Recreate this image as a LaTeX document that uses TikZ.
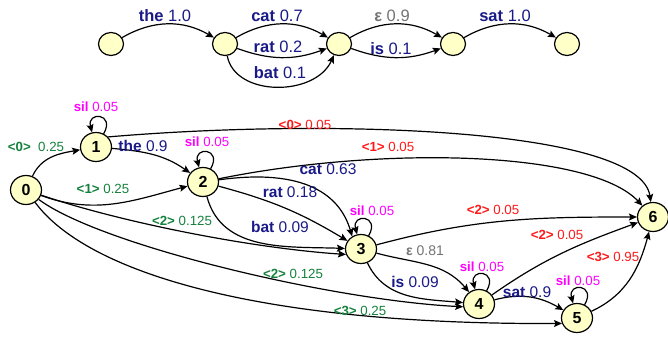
\documentclass[tikz,border=0pt]{standalone}
\usepackage{fontspec}
\setmainfont{Liberation Sans}
\usetikzlibrary{arrows.meta,shapes.geometric}
\definecolor{lnavy}{RGB}{25,25,135}
\definecolor{lgreen}{RGB}{20,130,60}
\definecolor{lred}{RGB}{255,25,25}
\definecolor{lmag}{RGB}{255,0,255}
\definecolor{lgray}{RGB}{115,115,115}
\definecolor{nfill}{RGB}{255,255,200}
\begin{document}
\begin{tikzpicture}[x=1pt,y=1pt,
  st/.style={ellipse,draw,line width=1.2pt,fill=nfill,minimum width=31pt,minimum height=29pt,inner sep=0pt,font=\fontsize{16}{16}\selectfont\bfseries},
  tst/.style={ellipse,draw,line width=1.2pt,fill=nfill,minimum width=25pt,minimum height=23pt,inner sep=0pt},
  arr/.style={-{Stealth[length=8pt,width=7pt,inset=1.5pt]},line width=1.2pt},
  selfloop/.style={arr},
  tlab/.style={inner sep=0pt,anchor=center,font=\fontsize{16.5}{17}\selectfont,text=lnavy},
  tglab/.style={tlab,text=lgray},
  blab/.style={inner sep=0pt,anchor=center,font=\fontsize{15.5}{16}\selectfont,text=lnavy},
  slab/.style={inner sep=0pt,anchor=center,font=\fontsize{13.3}{14}\selectfont},
  mlab/.style={slab,text=lmag},
  rlab/.style={slab,text=lred},
  glab/.style={slab,text=lgreen},
  gylab/.style={slab,font=\fontsize{14}{14}\selectfont,text=lgray}
]
\useasboundingbox (0,0) rectangle (668,-339);

% ---- top chain ----
\node[tst] (t1) at (111,-44) {};
\node[tst] (t2) at (225,-44) {};
\node[tst] (t3) at (339,-44) {};
\node[tst] (t4) at (453,-44) {};
\node[tst] (t5) at (567,-44) {};

\draw[arr] (t1) to[bend left=30] (t2);
\draw[arr] (t2) to[bend left=30] (t3);
\draw[arr] (t2) to[bend right=20] (t3);
\draw[arr] (t2) .. controls (235,-97) and (315,-97) .. (t3);
\draw[arr] (t3) to[bend left=30] (t4);
\draw[arr] (t3) to[bend right=20] (t4);
\draw[arr] (t4) to[bend left=30] (t5);

\node[tlab] (lthe) at (165,-16) {\textbf{the} 1.0};
\node[tlab] (lcat) at (277,-16) {\textbf{cat} 0.7};
\node[tlab] (lrat) at (278,-47) {\textbf{rat} 0.2};
\node[tlab] (lbat) at (280,-73) {\textbf{bat} 0.1};
\node[tglab] (leps) at (392,-16) {\textbf{ε} 0.9};
\node[tlab] (lis) at (391,-49) {\textbf{is} 0.1};
\node[tlab] (lsat) at (505,-16) {\textbf{sat} 1.0};

% ---- bottom graph ----
\node[st] (n0) at (26,-190) {0};
\node[st] (n1) at (96,-147) {1};
\node[st] (n2) at (203,-182) {2};
\node[st] (n3) at (361,-249) {3};
\node[st] (n4) at (479,-304) {4};
\node[st] (n5) at (577,-318) {5};
\node[st] (n6) at (653,-217) {6};

% self loops
\draw[selfloop] (n1.60) .. controls +(60:24) and +(105:22) .. (n1.105);
\draw[selfloop] (n2.60) .. controls +(60:24) and +(105:22) .. (n2.105);
\draw[selfloop] (n3.60) .. controls +(60:24) and +(105:22) .. (n3.105);
\draw[selfloop] (n4.60) .. controls +(60:24) and +(105:22) .. (n4.105);
\draw[selfloop] (n5.60) .. controls +(60:24) and +(105:22) .. (n5.105);

\draw[arr] (n0) to[out=65,in=190] (n1);
\draw[arr] (n1) to[out=-5,in=145] (n2);
\draw[arr] (n0) to[out=-20,in=195] (n2);
\draw[arr] (n1.40) .. controls (330,-118) and (640,-128) .. (n6);
\draw[arr] (n2) .. controls (380,-146) and (590,-150) .. (n6);
\draw[arr] (n2) .. controls (305,-168) and (340,-195) .. (n3.125);
\draw[arr] (n2) to[bend left=8] (n3);
\draw[arr] (n2) to[out=-75,in=178] (n3);
\draw[arr] (n0) .. controls (120,-222) and (250,-248) .. (n3.200);
\draw[arr] (n0) .. controls (100,-245) and (330,-300) .. (n4.190);
\draw[arr] (n0) .. controls (85,-270) and (250,-325) .. (n5.200);
\draw[arr] (n3) to[out=15,in=180] (n6);
\draw[arr] (n3) to[out=-15,in=130] (n4);
\draw[arr] (n3) to[out=-65,in=175] (n4);
\draw[arr] (n4) to[out=35,in=200] (n6);
\draw[arr] (n4) to[out=15,in=150] (n5);
\draw[arr] (n5) to[out=25,in=-105] (n6);

% labels
\node[mlab] (s1) at (96,-107) {\textbf{sil} 0.05};
\node[mlab] (s2) at (207,-142) {\textbf{sil} 0.05};
\node[mlab] (s3) at (372,-211) {\textbf{sil} 0.05};
\node[mlab] (s4) at (482,-267) {\textbf{sil} 0.05};
\node[mlab] (s5) at (578,-281) {\textbf{sil} 0.05};
\node[glab] (g01) at (36,-147) {\textbf{<0>}\ \ 0.25};
\node[glab] (g02) at (103,-189) {\textbf{<1>} 0.25};
\node[glab] (g03) at (182,-221) {\textbf{<2>} 0.125};
\node[glab] (g04) at (293,-274) {\textbf{<2>} 0.125};
\node[glab] (g05) at (360,-311) {\textbf{<3>} 0.25};
\node[rlab] (r16) at (305,-125) {\textbf{<0>} 0.05};
\node[rlab] (r26) at (388,-147) {\textbf{<1>} 0.05};
\node[rlab] (r36) at (493,-210) {\textbf{<2>} 0.05};
\node[rlab] (r46) at (557,-235) {\textbf{<2>} 0.05};
\node[rlab] (r56) at (613,-257) {\textbf{<3>} 0.95};
\node[blab] (b12) at (143,-146) {\textbf{the} 0.9};
\node[blab] (bcat) at (328,-169) {\textbf{cat} 0.63};
\node[blab] (brat) at (290,-192) {\textbf{rat} 0.18};
\node[blab] (bbat) at (280,-227) {\textbf{bat} 0.09};
\node[gylab] (beps) at (425,-251) {\textbf{ε} 0.81};
\node[blab] (bis) at (415,-282) {\textbf{is} 0.09};
\node[blab] (bsat) at (527,-292) {\textbf{sat} 0.9};
\end{tikzpicture}
\end{document}
